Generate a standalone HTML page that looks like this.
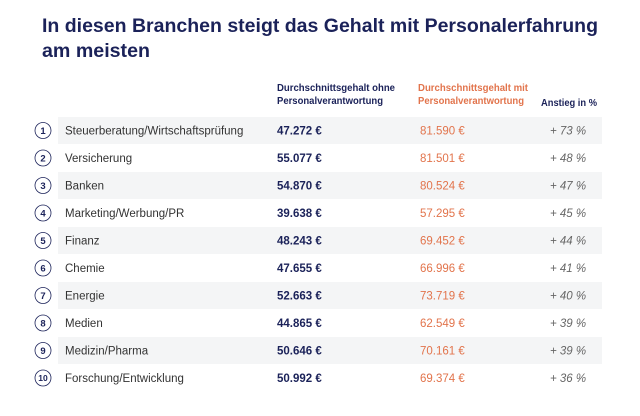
<!DOCTYPE html>
<html><head><meta charset="utf-8"><style>
body{margin:0;background:#fff;}
svg{display:block;}
</style></head><body>
<svg width="640" height="416" xmlns="http://www.w3.org/2000/svg" font-family="Liberation Sans, sans-serif">
<rect width="640" height="416" fill="#fff"/>
<g fill="#1b2259" font-weight="bold" font-size="19">
<text x="42" y="32" textLength="556" lengthAdjust="spacingAndGlyphs">In diesen Branchen steigt das Gehalt mit Personalerfahrung</text>
<text x="42" y="57" textLength="108" lengthAdjust="spacingAndGlyphs">am meisten</text>
</g>
<g font-weight="bold" font-size="10">
<text x="277" y="91" fill="#1b2259" textLength="118" lengthAdjust="spacingAndGlyphs">Durchschnittsgehalt ohne</text>
<text x="277" y="104" fill="#1b2259" textLength="106" lengthAdjust="spacingAndGlyphs">Personalverantwortung</text>
<text x="418" y="91" fill="#e2744c" textLength="110" lengthAdjust="spacingAndGlyphs">Durchschnittsgehalt mit</text>
<text x="418" y="104" fill="#e2744c" textLength="106" lengthAdjust="spacingAndGlyphs">Personalverantwortung</text>
<text x="541" y="106" fill="#1b2259" textLength="56" lengthAdjust="spacingAndGlyphs">Anstieg in %</text>
</g>
<g fill="#f4f5f6">
<rect x="58" y="117" width="544" height="27"/>
<rect x="58" y="172" width="544" height="27"/>
<rect x="58" y="227" width="544" height="27"/>
<rect x="58" y="282" width="544" height="27"/>
<rect x="58" y="337" width="544" height="27"/>
</g>
<g font-size="11.5">
<g fill="#fff" stroke="#1b2259" stroke-width="0.8">
<circle cx="43" cy="130.5" r="8"/><circle cx="43" cy="158" r="8"/><circle cx="43" cy="185.5" r="8"/><circle cx="43" cy="213" r="8"/><circle cx="43" cy="240.5" r="8"/><circle cx="43" cy="268" r="8"/><circle cx="43" cy="295.5" r="8"/><circle cx="43" cy="323" r="8"/><circle cx="43" cy="350.5" r="8"/><circle cx="43" cy="378" r="8"/>
</g>
<g font-size="9.5" font-weight="bold" fill="#1b2259" text-anchor="middle">
<text x="43" y="134">1</text><text x="43" y="161.5">2</text><text x="43" y="189">3</text><text x="43" y="216.5">4</text><text x="43" y="244">5</text><text x="43" y="271.5">6</text><text x="43" y="299">7</text><text x="43" y="326.5">8</text><text x="43" y="354">9</text><text x="43" y="381" font-size="8.5">10</text>
</g>
<g fill="#333">
<text x="65" y="134.5">Steuerberatung/Wirtschaftsprüfung</text>
<text x="65" y="162">Versicherung</text>
<text x="65" y="189.5">Banken</text>
<text x="65" y="217">Marketing/Werbung/PR</text>
<text x="65" y="244.5">Finanz</text>
<text x="65" y="272">Chemie</text>
<text x="65" y="299.5">Energie</text>
<text x="65" y="327">Medien</text>
<text x="65" y="354.5">Medizin/Pharma</text>
<text x="65" y="382">Forschung/Entwicklung</text>
</g>
<g fill="#1b2259" font-weight="bold">
<text x="277" y="134.5">47.272 €</text>
<text x="277" y="162">55.077 €</text>
<text x="277" y="189.5">54.870 €</text>
<text x="277" y="217">39.638 €</text>
<text x="277" y="244.5">48.243 €</text>
<text x="277" y="272">47.655 €</text>
<text x="277" y="299.5">52.663 €</text>
<text x="277" y="327">44.865 €</text>
<text x="277" y="354.5">50.646 €</text>
<text x="277" y="382">50.992 €</text>
</g>
<g fill="#e2744c">
<text x="420" y="134.5">81.590 €</text>
<text x="420" y="162">81.501 €</text>
<text x="420" y="189.5">80.524 €</text>
<text x="420" y="217">57.295 €</text>
<text x="420" y="244.5">69.452 €</text>
<text x="420" y="272">66.996 €</text>
<text x="420" y="299.5">73.719 €</text>
<text x="420" y="327">62.549 €</text>
<text x="420" y="354.5">70.161 €</text>
<text x="420" y="382">69.374 €</text>
</g>
<g fill="#666" font-style="italic">
<text x="550" y="134.5">+ 73 %</text>
<text x="550" y="162">+ 48 %</text>
<text x="550" y="189.5">+ 47 %</text>
<text x="550" y="217">+ 45 %</text>
<text x="550" y="244.5">+ 44 %</text>
<text x="550" y="272">+ 41 %</text>
<text x="550" y="299.5">+ 40 %</text>
<text x="550" y="327">+ 39 %</text>
<text x="550" y="354.5">+ 39 %</text>
<text x="550" y="382">+ 36 %</text>
</g>
</g>
</svg>
</body></html>
